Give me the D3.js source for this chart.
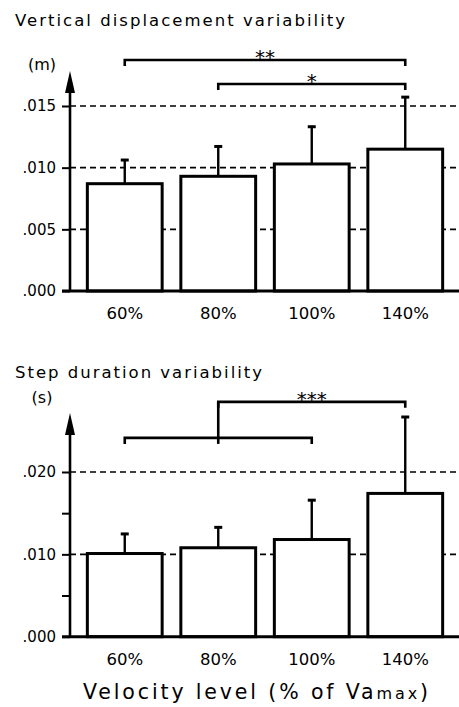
<!DOCTYPE html>
<html>
<head>
<meta charset="utf-8">
<script src="https://cdn.jsdelivr.net/npm/d3@7"></script>
<style>
  body { margin: 0; background: #fff; }
  text { font-family: "DejaVu Sans", sans-serif; fill: #000; }
</style>
</head>
<body>
<div id="chart"></div>
<script>
var categories = ['60%', '80%', '100%', '140%'];

// vertical displacement variability (m)
var dispMean = [0.0087, 0.0093, 0.0103, 0.0115];
var dispSD   = [0.0020, 0.0025, 0.0031, 0.0043];
var dispTicks = [0, 0.005, 0.010, 0.015];
var dispTickLabels = ['.000', '.005', '.010', '.015'];

// step duration variability (s)
var stepMean = [0.0101, 0.0108, 0.0118, 0.0174];
var stepSD   = [0.0025, 0.0026, 0.0049, 0.0094];
var stepTicks = [0, 0.005, 0.010, 0.015, 0.020];
var stepTickLabels = ['.000', '', '.010', '', '.020'];

// significance brackets: from / to category index, level in axis units
var dispBrackets = [
  {from: 0, to: 3, level: 0.01873, label: '**'},
  {from: 1, to: 3, level: 0.01678, label: '*'}
];
var stepBrackets = [
  {from: 0, to: 2, level: 0.02414, label: ''},
  {from: 1, to: 3, level: 0.02852, label: '***'}
];

var width = 459;
var height = 707;
var axisX = 70;

var svg = d3.select('#chart')
  .append('svg')
  .attr('width', width)
  .attr('height', height);

var x = d3.scaleBand()
  .domain(categories)
  .range([78, 452])
  .paddingInner(0.2)
  .paddingOuter(0.1);

function cx(i) {
  return x(categories[i]) + x.bandwidth() / 2;
}

function panel(opt) {
  var g = svg.append('g');
  var y = d3.scaleLinear().domain(opt.domain).range(opt.range);
  var y0 = y(0);

  g.append('text')
    .attr('x', 15)
    .attr('y', opt.titleY)
    .attr('font-size', 16.5)
    .attr('textLength', opt.titleLen)
    .attr('lengthAdjust', 'spacing')
    .text(opt.title);

  g.append('text')
    .attr('x', 42)
    .attr('y', opt.unitY)
    .attr('text-anchor', 'middle')
    .attr('font-size', 16)
    .text(opt.unit);

  // dashed grid lines at labelled ticks
  g.selectAll('.grid')
    .data(opt.ticks.filter(function(d, i){ return d > 0 && opt.tickLabels[i] !== ''; }))
    .enter()
    .append('line')
    .attr('x1', axisX)
    .attr('x2', width)
    .attr('y1', function(d){ return y(d); })
    .attr('y2', function(d){ return y(d); })
    .attr('stroke', '#000')
    .attr('stroke-width', 1.6)
    .attr('stroke-dasharray', '6,4');

  // y axis
  var axis = d3.axisLeft(y)
    .tickValues(opt.ticks)
    .tickFormat(function(d, i){ return opt.tickLabels[i]; })
    .tickSize(8)
    .tickPadding(6);
  var ag = g.append('g')
    .attr('transform', 'translate(' + axisX + ',0)')
    .call(axis);
  ag.select('.domain').remove();
  ag.selectAll('.tick line').attr('stroke', '#000').attr('stroke-width', 2);
  ag.selectAll('.tick text')
    .attr('font-size', 15)
    .attr('font-family', '"DejaVu Sans", sans-serif');

  g.append('line')
    .attr('x1', axisX).attr('x2', axisX)
    .attr('y1', y0 + 1).attr('y2', opt.arrowTip + 10)
    .attr('stroke', '#000').attr('stroke-width', 2.6);
  g.append('path')
    .attr('d', 'M' + axisX + ',' + opt.arrowTip +
      'L' + (axisX + 5) + ',' + (opt.arrowTip + 22) +
      'L' + (axisX - 5) + ',' + (opt.arrowTip + 22) + 'Z')
    .attr('fill', '#000');

  // error bars (upper only)
  g.selectAll('.err')
    .data(opt.mean)
    .enter()
    .append('line')
    .attr('x1', function(d, i){ return cx(i); })
    .attr('x2', function(d, i){ return cx(i); })
    .attr('y1', function(d){ return y(d); })
    .attr('y2', function(d, i){ return y(d + opt.sd[i]); })
    .attr('stroke', '#000')
    .attr('stroke-width', 2.4);
  g.selectAll('.cap')
    .data(opt.mean)
    .enter()
    .append('line')
    .attr('x1', function(d, i){ return cx(i) - 4; })
    .attr('x2', function(d, i){ return cx(i) + 4; })
    .attr('y1', function(d, i){ return y(d + opt.sd[i]) + 1; })
    .attr('y2', function(d, i){ return y(d + opt.sd[i]) + 1; })
    .attr('stroke', '#000')
    .attr('stroke-width', 3);

  // bars
  g.selectAll('.bar')
    .data(opt.mean)
    .enter()
    .append('rect')
    .attr('x', function(d, i){ return x(categories[i]); })
    .attr('width', x.bandwidth())
    .attr('y', function(d){ return y(d); })
    .attr('height', function(d){ return y0 - y(d); })
    .attr('fill', '#fff')
    .attr('stroke', '#000')
    .attr('stroke-width', 3);

  // baseline
  g.append('line')
    .attr('x1', 62).attr('x2', width)
    .attr('y1', y0).attr('y2', y0)
    .attr('stroke', '#000').attr('stroke-width', 3);

  // x labels
  g.selectAll('.xl')
    .data(categories)
    .enter()
    .append('text')
    .attr('x', function(d, i){ return cx(i); })
    .attr('y', y0 + opt.xlabOff)
    .attr('text-anchor', 'middle')
    .attr('font-size', 16.5)
    .text(function(d){ return d; });

  // brackets
  opt.brackets.forEach(function(b) {
    var by = y(b.level);
    var x1 = cx(b.from), x2 = cx(b.to);
    g.append('path')
      .attr('d', 'M' + x1 + ',' + (by + 6) + 'V' + by + 'H' + x2 + 'V' + (by + 6))
      .attr('fill', 'none')
      .attr('stroke', '#000')
      .attr('stroke-width', 2.6);
    g.append('text')
      .attr('x', (x1 + x2) / 2)
      .attr('y', by + 4)
      .attr('text-anchor', 'middle')
      .attr('font-size', 20)
      .text(b.label);
  });
  return {g: g, y: y};
}

panel({
  title: 'Vertical displacement variability',
  titleY: 26, titleLen: 330,
  unit: '(m)', unitY: 70,
  domain: [0, 0.015], range: [291, 106],
  ticks: dispTicks, tickLabels: dispTickLabels,
  arrowTip: 71,
  mean: dispMean, sd: dispSD,
  brackets: dispBrackets,
  xlabOff: 28
});

var bottom = panel({
  title: 'Step duration variability',
  titleY: 378, titleLen: 247,
  unit: '(s)', unitY: 403,
  domain: [0, 0.020], range: [636.7, 472],
  ticks: stepTicks, tickLabels: stepTickLabels,
  arrowTip: 413,
  mean: stepMean, sd: stepSD,
  brackets: stepBrackets,
  xlabOff: 28
});

// connector from the lower bracket up to the upper one
bottom.g.append('line')
  .attr('x1', cx(1)).attr('x2', cx(1))
  .attr('y1', bottom.y(stepBrackets[0].level) + 6)
  .attr('y2', bottom.y(stepBrackets[1].level))
  .attr('stroke', '#000')
  .attr('stroke-width', 2.6);

var xt = svg.append('text')
  .attr('x', 83)
  .attr('y', 699)
  .attr('font-size', 20.5)
  .attr('textLength', 345)
  .attr('lengthAdjust', 'spacing');
xt.append('tspan').text('Velocity level (% of Va');
xt.append('tspan').attr('font-size', 16).text('max');
xt.append('tspan').text(')');
</script>
</body>
</html>
